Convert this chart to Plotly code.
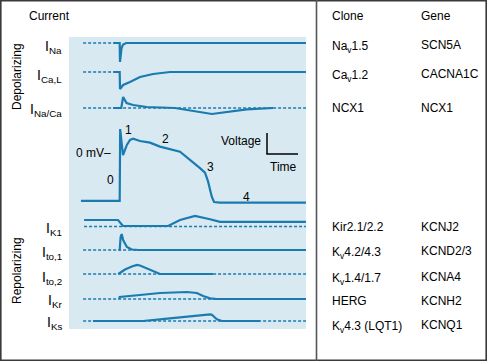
import plotly.graph_objects as go

W, H = 487, 361
BLUE = "#1a7bb0"
PANEL = "#d8e9f1"
FONT = "Liberation Sans, Arial, Helvetica, sans-serif"

# ---------------- data (time in ms, currents in arbitrary units, voltage in mV)
T_RANGE = [-163.2, 595.2]

ap_t = [-125, -1, 0.5, 9.6, 22, 32, 42, 64, 96, 128, 192, 224, 256, 272, 282, 288, 294, 301, 320, 595]
ap_v = [-85, -85, 42, -4, 14, 23, 25, 21, 18, 11, 2, -12, -27, -35, -51, -65, -78, -87, -88, -88]

ina_t = [-22, -1, 0, 2, 5, 10, 20, 595]
ina_v = [0, 0, -19, -12, -5, -1.5, 0, 0]

ical_t = [-22, -1, 0, 10, 32, 64, 106, 160, 595]
ical_v = [0, 0, -17, -13, -10, -5, -2, 0, 0]

ncx_t = [-22, 4, 10, 21, 42, 86, 176, 294, 406, 490]
ncx_v = [0, 0, 11, 5, 3, 1, 0, -6, -1.3, 0]

ik1_t = [-115, -6.4, 9.6, 154, 192, 240, 288, 320, 595]
ik1_v = [6.5, 6.5, 0.5, 0.5, 6.5, 10.5, 7.2, 4.6, 4.6]

ito1_t = [-3, -1, 2, 5.4, 10, 22, 38, 60, 595]
ito1_v = [0, 0, 13, 16, 10, 3, 0.5, 0, 0]

ito2_t = [-5.4, 16, 38, 54, 64, 90, 106, 128, 298]
ito2_v = [0, 4.5, 7.5, 9, 8.5, 5, 2.3, 0, 0]

ikr_t = [-2, -1, 64, 128, 214, 246, 266, 288, 310, 595]
ikr_v = [0, 2, 4, 6, 7, 6, 3, 0.7, 0, 0]

iks_t = [-86.4, 73.6, 160, 224, 288, 294, 304, 310, 326, 448]
iks_v = [0, 0, 2.7, 5, 6.7, 6.3, 3.5, 1.7, 0, 0]

# dashed zero-current reference spans (ms)
ina_zero = [-118, -22]
ical_zero = [-118, -22]
ncx_zero = [-118, 595]
ik1_zero = [-115, 595]
ito1_zero = [-118, 595]
ito2_zero = [-118, 595]
ikr_zero = [-118, 595]
iks_zero = [-118, 595]

row_labels = ["I<sub>Na</sub>", "I<sub>Ca,L</sub>", "I<sub>Na/Ca</sub>",
              "I<sub>K1</sub>", "I<sub>to,1</sub>", "I<sub>to,2</sub>", "I<sub>Kr</sub>", "I<sub>Ks</sub>"]
clones = ["Na<sub>v</sub>1.5", "Ca<sub>v</sub>1.2", "NCX1",
          "Kir2.1/2.2", "K<sub>v</sub>4.2/4.3", "K<sub>v</sub>1.4/1.7", "HERG", "K<sub>v</sub>4.3 (LQT1)"]
genes = ["SCN5A", "CACNA1C", "NCX1", "KCNJ2", "KCND2/3", "KCNA4", "KCNH2", "KCNQ1"]

# ---------------- layout helpers (pixel -> paper)
def px(x):
    return x / W

def py(y):
    return 1 - y / H

rows = [  # (t, v, zero span, baseline pixel)
    (ina_t, ina_v, ina_zero, 43),
    (ical_t, ical_v, ical_zero, 72),
    (ncx_t, ncx_v, ncx_zero, 108),
    (ik1_t, ik1_v, ik1_zero, 226.5),
    (ito1_t, ito1_v, ito1_zero, 250),
    (ito2_t, ito2_v, ito2_zero, 274),
    (ikr_t, ikr_v, ikr_zero, 299),
    (iks_t, iks_v, iks_zero, 321),
]
HALF = 20

fig = go.Figure()
layout_axes = {}
layout_axes["xaxis"] = dict(domain=[px(69), px(306)], range=T_RANGE, visible=False, fixedrange=True)

# AP axis is y1
layout_axes["yaxis"] = dict(domain=[py(215), py(115)], range=[-110, 67], visible=False, fixedrange=True)
fig.add_trace(go.Scatter(x=ap_t, y=ap_v, mode="lines", xaxis="x", yaxis="y",
                         line=dict(color=BLUE, width=2.2), hoverinfo="skip", showlegend=False))

for i, (t, v, zero, base) in enumerate(rows):
    ya = f"y{i + 2}"
    layout_axes[f"yaxis{i + 2}"] = dict(domain=[py(base + HALF), py(base - HALF)], range=[-HALF, HALF],
                                        visible=False, fixedrange=True, anchor="x")
    fig.add_trace(go.Scatter(x=zero, y=[0, 0], mode="lines", xaxis="x", yaxis=ya,
                             line=dict(color=BLUE, width=1.6, dash="3px,2px"),
                             hoverinfo="skip", showlegend=False))
    fig.add_trace(go.Scatter(x=t, y=v, mode="lines", xaxis="x", yaxis=ya,
                             line=dict(color=BLUE, width=2.2), hoverinfo="skip", showlegend=False))

label_y = [45, 74, 108, 226.7, 250.5, 275.5, 298.7, 320.5]
table_y = [45, 74, 108, 227, 251, 277, 301, 325]

annotations = []

def ann(text, x, y, xanchor="left", yanchor="middle", size=12, textangle=0):
    annotations.append(dict(text=text, x=px(x), y=py(y), xref="paper", yref="paper",
                            xanchor=xanchor, yanchor=yanchor, showarrow=False,
                            textangle=textangle, font=dict(family=FONT, size=size, color="black")))

ann("Current", 27, 16)
ann("Clone", 330, 16)
ann("Gene", 419, 16)
ann("Depolarizing", 17, 77, xanchor="center", textangle=-90)
ann("Repolarizing", 17, 271, xanchor="center", textangle=-90)

for lab, yy in zip(row_labels, label_y):
    ann(lab, 64, yy + 2, xanchor="right", size=14)
for c, g, yy in zip(clones, genes, table_y):
    ann(c, 330, yy + (2 if "<sub>" in c else 0))
    ann(g, 419, yy)

# AP annotations in data coordinates
def ap_ann(text, t, mv, xanchor="center"):
    annotations.append(dict(text=text, x=t, y=mv, xref="x", yref="y", xanchor=xanchor, yanchor="middle",
                            showarrow=False, font=dict(family=FONT, size=12, color="black")))

ap_ann("0 mV\u2013", -21, 0, xanchor="right")
ap_ann("0", -29, -48)
ap_ann("1", 26, 41)
ap_ann("2", 147, 25)
ap_ann("3", 288, -25)
ap_ann("4", 406, -78)

ann("Voltage", 263, 141, xanchor="right")
ann("Time", 283, 167, xanchor="center")

shapes = [
    dict(type="rect", xref="paper", yref="paper", x0=px(69), x1=px(306), y0=py(329), y1=py(37),
         fillcolor=PANEL, line=dict(width=0), layer="below"),
    dict(type="rect", xref="paper", yref="paper", x0=px(0.8), x1=px(486.2), y0=py(360.2), y1=py(0.8),
         line=dict(color="#3a3a3a", width=1.6), layer="above"),
    dict(type="line", xref="paper", yref="paper", x0=px(316.5), x1=px(316.5), y0=py(361), y1=py(0),
         line=dict(color="#555555", width=1.6)),
    # scale bar
    dict(type="line", xref="paper", yref="paper", x0=px(267), x1=px(267), y0=py(133), y1=py(154),
         line=dict(color="black", width=1.5)),
    dict(type="line", xref="paper", yref="paper", x0=px(266.3), x1=px(298), y0=py(154), y1=py(154),
         line=dict(color="black", width=1.5)),
]

fig.update_layout(width=W, height=H, margin=dict(l=0, r=0, t=0, b=0),
                  paper_bgcolor="white", plot_bgcolor="rgba(0,0,0,0)",
                  showlegend=False, annotations=annotations, shapes=shapes, **layout_axes)

fig.write_html("out.html", config={"displayModeBar": False},
               post_script="document.body.style.margin='0px';document.body.style.padding='0px';")
